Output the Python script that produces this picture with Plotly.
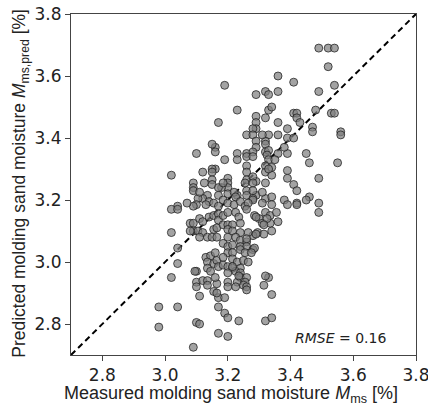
import plotly.graph_objects as go

# Measured (x) vs predicted (y) molding sand moisture [%]
measured = [
    3.49, 3.52, 3.54, 3.52, 3.36, 3.41, 3.19, 3.49, 3.54, 3.29, 3.32, 3.33, 3.36,
    3.23, 3.33, 3.34, 3.41, 3.42, 3.42, 3.48, 3.53, 3.54, 3.17, 3.29, 3.32, 3.43,
    3.36, 3.29, 3.29, 3.28, 3.39, 3.47, 3.47, 3.56, 3.56, 3.26, 3.28, 3.33, 3.36,
    3.39, 3.41, 3.29, 3.32, 3.32, 3.29, 3.16, 3.15, 3.16, 3.10, 3.23, 3.26, 3.28,
    3.32, 3.33, 3.325, 3.36, 3.39, 3.45, 3.26, 3.28, 3.23, 3.19, 3.33, 3.35, 3.38,
    3.31,
    3.46, 3.55, 3.26, 3.32, 3.34, 3.16, 3.26, 3.32, 3.34, 3.39, 3.39, 3.49, 3.20,
    3.26, 3.29, 3.32, 3.20, 3.20, 3.18, 3.26, 3.41, 3.42, 3.20, 3.23, 3.17, 3.26,
    3.29, 3.28, 3.32, 3.34, 3.46, 3.45, 3.49, 3.42, 3.49, 3.42, 3.28, 3.255, 3.28,
    3.33,
    3.02, 3.15, 3.15, 3.125, 3.15, 3.15, 3.17, 3.09, 3.09, 3.09, 3.135, 3.12, 3.105,
    3.14, 3.155, 3.13, 3.10, 3.09, 3.04, 3.17, 3.11, 3.12,
    3.185, 3.22, 3.225, 3.28, 3.28, 3.31, 3.31, 3.34, 3.38, 3.39, 3.185, 3.20, 3.22,
    3.24, 3.255, 3.265,
    3.02, 3.04, 3.07, 3.08, 3.09, 3.11, 3.12, 3.14, 3.155, 3.17, 3.17, 3.09, 3.105,
    3.12, 3.11, 3.135, 3.15, 3.165, 3.155, 3.165, 3.08, 3.02, 3.04, 3.04, 3.02, 3.13,
    3.145, 3.16, 3.135, 3.155, 3.165, 3.17, 3.135, 3.145, 3.10, 3.10, 3.12, 3.135,
    3.10, 3.135, 3.165, 3.16, 3.155, 3.11, 3.095,
    3.185, 3.20, 3.225, 3.235, 3.26, 3.285, 3.30, 3.32, 3.335, 3.355, 3.36, 3.335,
    3.31, 3.34, 3.295, 3.28, 3.265, 3.185, 3.20, 3.215, 3.24, 3.20, 3.215, 3.24,
    3.20, 3.225, 3.24, 3.26, 3.185, 3.20, 3.215, 3.24, 3.26, 3.28, 3.20, 3.215, 3.24,
    3.255, 3.185, 3.215, 3.23, 3.25, 3.265, 3.185, 3.20, 3.215, 3.24, 3.20, 3.225,
    3.24, 3.24, 3.26, 3.20, 3.23, 3.255, 3.20, 3.225, 3.25, 3.33, 3.32, 3.315, 3.34,
    3.325, 3.315, 3.29, 3.315, 3.29, 3.26, 3.235, 3.26, 3.215, 3.285, 3.275,
    2.98, 3.04, 3.17, 3.19, 3.17, 3.19, 3.20, 3.235, 2.98, 3.10, 3.11, 3.17, 3.20,
    3.09, 3.32, 3.34, 3.165, 3.26,
]
predicted = [
    3.69, 3.69, 3.69, 3.63, 3.60, 3.58, 3.57, 3.55, 3.57, 3.54, 3.55, 3.54, 3.55,
    3.49, 3.49, 3.50, 3.48, 3.48, 3.465, 3.49, 3.48, 3.48, 3.45, 3.47, 3.465, 3.45,
    3.45, 3.45, 3.43, 3.43, 3.43, 3.435, 3.42, 3.42, 3.41, 3.41, 3.41, 3.41, 3.41,
    3.40, 3.40, 3.39, 3.39, 3.38, 3.37, 3.37, 3.38, 3.355, 3.35, 3.35, 3.35, 3.355,
    3.355, 3.36, 3.345, 3.35, 3.35, 3.35, 3.34, 3.34, 3.33, 3.33, 3.33, 3.33, 3.37,
    3.41,
    3.32, 3.32, 3.31, 3.31, 3.305, 3.30, 3.29, 3.29, 3.28, 3.295, 3.27, 3.27, 3.27,
    3.265, 3.26, 3.255, 3.255, 3.24, 3.24, 3.23, 3.25, 3.23, 3.22, 3.215, 3.215, 3.215,
    3.215, 3.205, 3.205, 3.21, 3.21, 3.20, 3.19, 3.19, 3.16, 3.185, 3.275, 3.255, 3.255,
    3.30,
    3.28, 3.30, 3.29, 3.255, 3.265, 3.25, 3.24, 3.255, 3.24, 3.23, 3.215, 3.205, 3.205,
    3.195, 3.19, 3.185, 3.185, 3.18, 3.18, 3.18, 3.225, 3.29,
    3.255, 3.225, 3.21, 3.23, 3.20, 3.225, 3.19, 3.185, 3.20, 3.185, 3.20, 3.19, 3.185,
    3.195, 3.18, 3.19,
    3.17, 3.17, 3.19, 3.125, 3.125, 3.14, 3.13, 3.145, 3.15, 3.155, 3.135, 3.10, 3.10,
    3.095, 3.08, 3.08, 3.08, 3.08, 3.105, 3.11, 3.10, 3.095, 3.045, 2.995, 2.95, 3.015,
    3.02, 3.03, 3.00, 2.995, 3.005, 2.985, 2.98, 2.97, 2.97, 2.935, 2.94, 2.94,
    2.92, 2.925, 2.93, 2.95, 2.905, 2.89, 2.97,
    3.15, 3.16, 3.16, 3.145, 3.17, 3.15, 3.14, 3.16, 3.15, 3.16, 3.13, 3.125,
    3.125, 3.10, 3.095, 3.085, 3.095, 3.12, 3.12, 3.12, 3.125, 3.105, 3.10, 3.095,
    3.08, 3.08, 3.07, 3.065, 3.06, 3.05, 3.055, 3.05, 3.05, 3.04, 3.03, 3.03, 3.04,
    3.03, 3.015, 3.01, 3.00, 3.005, 3.00, 2.99, 2.985, 2.98, 2.98, 2.965, 2.97,
    2.965, 2.95, 2.95, 2.935, 2.935, 2.935, 2.92, 2.92, 2.925, 2.95, 2.955, 2.925, 2.895,
    3.14, 3.12, 3.145, 3.09, 3.09, 3.075, 2.955, 2.92, 2.985, 3.045, 3.03,
    2.855, 2.855, 2.885, 2.885, 2.855, 2.835, 2.82, 2.81, 2.79, 2.805, 2.80, 2.77, 2.76,
    2.725, 2.81, 2.82, 2.90, 2.91,
]

axis_range = [2.7, 3.8]
tick_vals = [2.8, 3.0, 3.2, 3.4, 3.6, 3.8]
tick_text = ["2.8", "3.0", "3.2", "3.4", "3.6", "3.8"]
x_title = "Measured molding sand moisture <i>M</i><sub>ms</sub> [%]"
y_title = "Predicted molding sand moisture <i>M</i><sub>ms,pred</sub> [%]"
rmse_label = "<i>RMSE</i> = 0.16"

fig = go.Figure()

fig.add_trace(go.Scatter(
    x=axis_range, y=axis_range, mode="lines",
    line=dict(color="black", width=2, dash="6px,4px"),
    hoverinfo="skip", showlegend=False,
))

fig.add_trace(go.Scatter(
    x=measured, y=predicted, mode="markers",
    marker=dict(size=8, color="rgba(128,128,128,0.72)",
                line=dict(color="rgba(30,30,30,0.75)", width=1)),
    showlegend=False,
))

axis_common = dict(
    range=axis_range, tickvals=tick_vals, ticktext=tick_text,
    showgrid=False, zeroline=False, showline=True, linecolor="#444", linewidth=1,
    mirror=True, ticks="outside", ticklen=5, tickcolor="#444", automargin=False,
    ticklabeloverflow="allow",
    tickfont=dict(family="DejaVu Sans", size=17, color="#222"),
)

title_font = dict(family="Liberation Sans", size=18, color="#222")

fig.update_layout(
    width=428, height=408,
    margin=dict(l=71, r=12, t=14, b=53, autoexpand=False),
    paper_bgcolor="white", plot_bgcolor="white",
    xaxis=dict(**axis_common),
    yaxis=dict(**axis_common),
    annotations=[
        dict(x=3.71, y=2.755, xref="x", yref="y", text=rmse_label,
             showarrow=False, xanchor="right", yanchor="middle",
             font=dict(family="DejaVu Sans", size=14, color="#222")),
        dict(x=0.464, y=-0.116, xref="paper", yref="paper", text=x_title,
             showarrow=False, xanchor="center", yanchor="middle", font=title_font),
        dict(x=-0.145, y=0.505, xref="paper", yref="paper", text=y_title,
             showarrow=False, xanchor="center", yanchor="middle", textangle=-90,
             font=dict(family="Liberation Sans", size=17.5, color="#222")),
    ],
)

fig.write_html("out.html", config={"displayModeBar": False},
               post_script="document.body.style.margin='0px';")
